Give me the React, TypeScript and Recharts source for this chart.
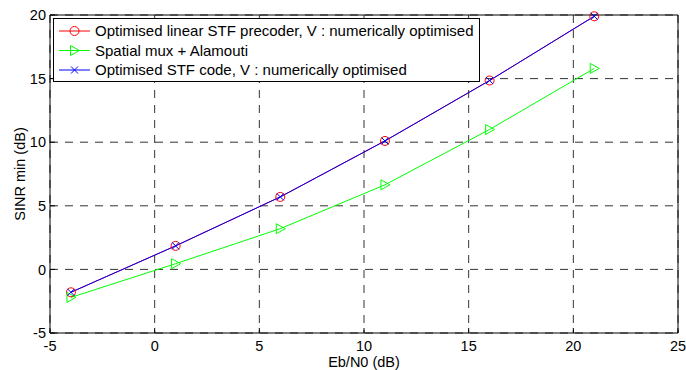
import { CartesianGrid, Line, LineChart, XAxis, YAxis } from "recharts";

const ebN0 = [-4, 1, 6, 11, 16, 21];
const sinrPrecoder = [-1.8, 1.85, 5.7, 10.1, 14.85, 19.9];
const sinrAlamouti = [-2.2, 0.45, 3.2, 6.65, 11.0, 15.8];
const sinrStfCode = [-1.8, 1.85, 5.7, 10.1, 14.85, 19.9];

const xTicks = [-5, 0, 5, 10, 15, 20, 25];
const yTicks = [-5, 0, 5, 10, 15, 20];

const seriesNames = [
  "Optimised linear STF precoder, V : numerically optimised",
  "Spatial mux + Alamouti",
  "Optimised STF code, V : numerically optimised",
];

const data = ebN0.map((x, i) => ({
  x,
  precoder: sinrPrecoder[i],
  alamouti: sinrAlamouti[i],
  stf: sinrStfCode[i],
}));

const FONT = "'Liberation Sans', Arial, sans-serif";

function CircleMark({ cx, cy }: { cx: number; cy: number }) {
  return <circle cx={cx} cy={cy} r={4.5} fill="none" stroke="#ff0000" strokeWidth={1} />;
}

function CrossMark({ cx, cy }: { cx: number; cy: number }) {
  const d = 3.5;
  return (
    <g stroke="#0000ff" strokeWidth={1}>
      <line x1={cx - d} y1={cy - d} x2={cx + d} y2={cy + d} />
      <line x1={cx - d} y1={cy + d} x2={cx + d} y2={cy - d} />
    </g>
  );
}

function TriMark({ cx, cy }: { cx: number; cy: number }) {
  return (
    <polygon
      points={`${cx - 4},${cy - 5} ${cx + 5},${cy} ${cx - 4},${cy + 5}`}
      fill="none"
      stroke="#00ff00"
      strokeWidth={1}
    />
  );
}

const marks = [CircleMark, TriMark, CrossMark];
const colors = ["#ff0000", "#00ff00", "#0000ff"];

function LegendBox() {
  return (
    <svg
      width={686}
      height={370}
      style={{ position: "absolute", left: 0, top: 0, pointerEvents: "none" }}
    >
      <rect x={53.5} y={18.5} width={426} height={63} fill="#ffffff" stroke="#000000" />
      {seriesNames.map((name, i) => {
        const y = 31 + i * 19.5;
        const Mark = marks[i];
        return (
          <g key={name}>
            <line x1={59} x2={90} y1={y} y2={y} stroke={colors[i]} />
            <Mark cx={74.5} cy={y} />
            <text x={95} y={y + 5} fontSize={15} fontFamily={FONT} fill="#000">
              {name}
            </text>
          </g>
        );
      })}
    </svg>
  );
}

const tickStyle = { fill: "#000", fontSize: 14.5 };

export default function App() {
  return (
    <div style={{ position: "absolute", left: 0, top: 0, width: 686, height: 370, background: "#fff" }}>
      <LineChart
        width={686}
        height={370}
        data={data}
        margin={{ top: 14, right: 7, bottom: 0, left: 0 }}
        style={{ fontFamily: FONT }}
      >
        <CartesianGrid stroke="#333" strokeDasharray="8 7" />
        <XAxis
          dataKey="x"
          type="number"
          domain={[-5, 25]}
          ticks={xTicks}
          height={37}
          tickSize={-5}
          tickMargin={13}
          tickLine={{ stroke: "#000" }}
          axisLine={{ stroke: "#000" }}
          tick={tickStyle}
          label={{ value: "Eb/N0 (dB)", position: "insideBottom", offset: 3, fill: "#000", fontSize: 14.5 }}
        />
        <XAxis
          xAxisId="top"
          orientation="top"
          dataKey="x"
          type="number"
          domain={[-5, 25]}
          ticks={xTicks}
          height={1}
          tick={false}
          tickSize={-5}
          tickLine={{ stroke: "#000" }}
          axisLine={{ stroke: "#000" }}
        />
        <YAxis
          type="number"
          domain={[-5, 20]}
          ticks={yTicks}
          width={50}
          tickSize={-5}
          tickMargin={9}
          tickLine={{ stroke: "#000" }}
          axisLine={{ stroke: "#000" }}
          tick={tickStyle}
          label={{
            value: "SINR min (dB)",
            angle: -90,
            position: "insideLeft",
            offset: 20,
            fill: "#000",
            fontSize: 14.5,
            style: { textAnchor: "middle" },
          }}
        />
        <YAxis
          yAxisId="right"
          orientation="right"
          type="number"
          domain={[-5, 20]}
          ticks={yTicks}
          width={1}
          tick={false}
          tickSize={-5}
          tickLine={{ stroke: "#000" }}
          axisLine={{ stroke: "#000" }}
        />
        <Line
          dataKey="precoder"
          stroke="#ff0000"
          strokeWidth={1}
          isAnimationActive={false}
          dot={(p: any) => <CircleMark key={`c${p.index}`} cx={p.cx} cy={p.cy} />}
        />
        <Line
          dataKey="alamouti"
          stroke="#00ff00"
          strokeWidth={1}
          isAnimationActive={false}
          dot={(p: any) => <TriMark key={`t${p.index}`} cx={p.cx} cy={p.cy} />}
        />
        <Line
          dataKey="stf"
          stroke="#0000ff"
          strokeWidth={1}
          isAnimationActive={false}
          dot={(p: any) => <CrossMark key={`x${p.index}`} cx={p.cx} cy={p.cy} />}
        />
      </LineChart>
      <LegendBox />
    </div>
  );
}
